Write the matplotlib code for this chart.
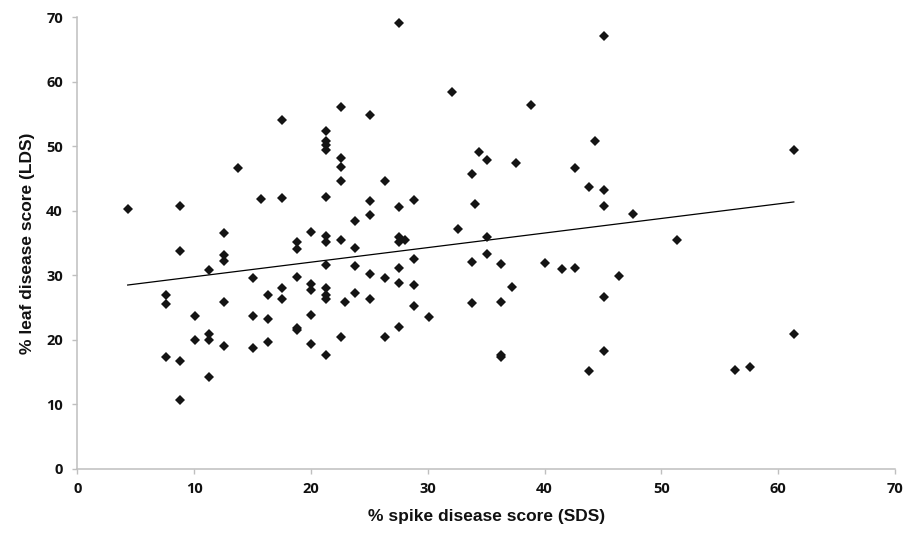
import numpy as np
import matplotlib
matplotlib.use("Agg")
import matplotlib.pyplot as plt

# % spike disease score (SDS) and % leaf disease score (LDS)
sds = [4.3,
       7.55, 7.55, 7.55,
       8.78, 8.78, 8.78, 8.78,
       10.03, 10.03,
       11.29, 11.29, 11.29, 11.29,
       12.54, 12.54, 12.54, 12.54, 12.54,
       13.77,
       15.03, 15.03, 15.03,
       15.74,
       16.28, 16.28, 16.28,
       17.54, 17.54, 17.54, 17.54,
       18.77, 18.77, 18.77, 18.77, 18.77,
       20.03, 20.03, 20.03, 20.03, 20.03,
       21.28, 21.28, 21.28, 21.28, 21.28, 21.28, 21.28, 21.28, 21.28, 21.28, 21.28, 21.28,
       22.53, 22.53, 22.53, 22.53, 22.53, 22.53,
       22.9,
       23.78, 23.78, 23.78, 23.78,
       25.04, 25.04, 25.04, 25.04, 25.04,
       26.3, 26.3, 26.3,
       27.55, 27.55, 27.55, 27.55, 27.55, 27.55, 27.55,
       28.07,
       28.81, 28.81, 28.81, 28.81,
       30.07,
       32.06,
       32.55,
       33.8, 33.8, 33.8,
       34.06,
       34.35,
       35.06, 35.06, 35.06,
       36.29, 36.29, 36.29, 36.29,
       37.2,
       37.57,
       38.8,
       40.05,
       41.5,
       42.57, 42.57,
       43.82, 43.82,
       44.33,
       45.08, 45.08, 45.08, 45.08, 45.08,
       46.33,
       47.59,
       51.3,
       56.32,
       57.58,
       61.34, 61.34]

lds = [40.2,
       27.0, 25.5, 17.3,
       40.8, 33.7, 16.7, 10.7,
       23.7, 20.0,
       30.8, 20.9, 19.9, 14.2,
       36.5, 33.1, 32.2, 25.9, 19.1,
       46.6,
       29.6, 23.7, 18.7,
       41.8,
       27.0, 23.3, 19.6,
       54.0, 42.0, 28.0, 26.3,
       35.1, 34.1, 29.7, 21.9, 21.6,
       36.7, 28.6, 27.7, 23.9, 19.4,
       52.3, 50.8, 50.2, 49.4, 42.1, 36.1, 35.2, 31.6, 28.1, 27.0, 26.3, 17.7,
       56.0, 48.2, 46.7, 44.6, 35.4, 20.5,
       25.8,
       38.4, 34.3, 31.4, 27.2,
       54.8, 41.5, 39.3, 30.2, 26.4,
       44.6, 29.6, 20.4,
       69.1, 40.5, 36.0, 35.2, 31.2, 28.8, 22.0,
       35.5,
       41.7, 32.5, 28.5, 25.3,
       23.5,
       58.4,
       37.1,
       45.7, 32.1, 25.7,
       41.1,
       49.1,
       47.8, 35.9, 33.3,
       31.7, 25.8, 17.65, 17.4,
       28.2,
       47.4,
       56.4,
       31.9,
       30.9,
       46.6, 31.1,
       43.7, 15.2,
       50.8,
       67.0, 43.2, 40.8, 26.6, 18.2,
       29.9,
       39.5,
       35.4,
       15.3,
       15.75,
       49.4, 20.9]

# linear trend line as drawn in the figure (read from its end points)
trend_slope = 0.2256
trend_intercept = 27.52

x_ticks = [0, 10, 20, 30, 40, 50, 60, 70]
y_ticks = [0, 10, 20, 30, 40, 50, 60, 70]

x = np.array(sds)
y = np.array(lds)

fig = plt.figure(figsize=(9.04, 5.35), dpi=100)
ax = fig.add_axes([0.0857, 0.1234, 0.9043, 0.8448])

ax.plot(x, y, linestyle="none", marker="D", markersize=4.9,
        color="#141414", markeredgewidth=0, zorder=3)
xl = np.array([x.min(), x.max()])
ax.plot(xl, trend_intercept + trend_slope * xl, color="black", linewidth=0.9, zorder=2)

ax.set_xlim(0, 70)
ax.set_ylim(0, 70)
ax.set_xticks(x_ticks)
ax.set_yticks(y_ticks)

for s in ["top", "right"]:
    ax.spines[s].set_visible(False)
for s in ["left", "bottom"]:
    ax.spines[s].set_color("#bfbfbf")
    ax.spines[s].set_linewidth(1.1)

tick_font = dict(family=["Open Sans", "DejaVu Sans"], weight="bold", size=10.5)
ax.tick_params(axis="both", direction="out", length=3.5, width=1.0,
               color="#bfbfbf", labelcolor="#111111")
ax.tick_params(axis="x", pad=6)
ax.tick_params(axis="y", pad=7)
ax.set_xticklabels([str(t) for t in x_ticks], fontdict=tick_font)
ax.set_yticklabels([str(t) for t in y_ticks], fontdict=tick_font)

lab_font = dict(family=["Liberation Sans", "DejaVu Sans"], weight="bold", size=12.5,
                color="#111111")
ax.set_xlabel("% spike disease score (SDS)", fontdict=lab_font, labelpad=9)
ax.set_ylabel("% leaf disease score (LDS)", fontdict=lab_font, labelpad=8)

fig.savefig("out.png", dpi=100)
